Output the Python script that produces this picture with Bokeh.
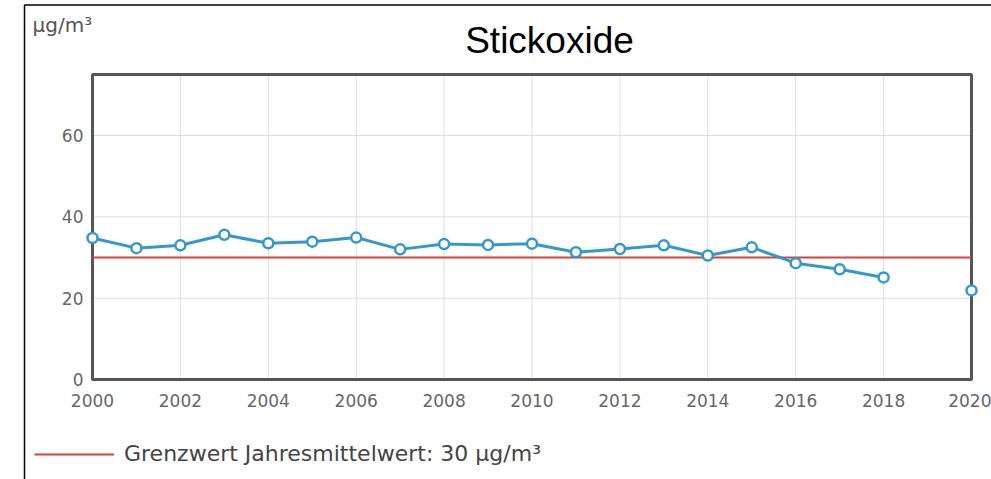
from bokeh.plotting import figure
from bokeh.models import (Range1d, FixedTicker, BoxAnnotation, Label, Legend, LegendItem)
from bokeh.embed import file_html
from bokeh.resources import INLINE

# ---- data ----
YEARS = [2000, 2001, 2002, 2003, 2004, 2005, 2006, 2007, 2008, 2009, 2010,
         2011, 2012, 2013, 2014, 2015, 2016, 2017, 2018, 2019, 2020]
NOX = [34.8, 32.3, 33.0, 35.6, 33.5, 33.9, 34.9, 32.0, 33.3, 33.1, 33.4,
       31.3, 32.1, 33.0, 30.5, 32.5, 28.6, 27.1, 25.1, float("nan"), 21.9]
LIMIT = 30
LIMIT_LABEL = "Grenzwert Jahresmittelwert: 30 µg/m³"
TITLE = "Stickoxide"
UNIT = "µg/m³"
X_TICKS = [2000, 2002, 2004, 2006, 2008, 2010, 2012, 2014, 2016, 2018, 2020]
Y_TICKS = [0, 20, 40, 60]
X_MIN, X_MAX = 2000, 2020
Y_MIN, Y_MAX = 0, 75

# ---- layout geometry (pixels inside the figure) ----
W, H = 991, 479
BOX_L, BOX_R, BOX_T, BOX_B = 92, 971, 74, 379   # visible plot box

xpx = (BOX_R - BOX_L) / (X_MAX - X_MIN)
ypx = (BOX_B - BOX_T) / (Y_MAX - Y_MIN)
XS = X_MIN - BOX_L / xpx
XE = X_MAX + (W - BOX_R) / xpx
YS = Y_MIN - (H - BOX_B) / ypx
YE = Y_MAX + BOX_T / ypx


def fx(px):
    return XS + px / xpx


def fy(py):
    return YE - py / ypx


p = figure(width=W, height=H, output_backend="svg", toolbar_location=None,
           title=None, x_range=Range1d(XS, XE), y_range=Range1d(YS, YE),
           min_border=0, min_border_left=0, min_border_right=0,
           min_border_top=0, min_border_bottom=0)
p.outline_line_color = None
p.background_fill_color = "white"
p.border_fill_color = "white"
p.xgrid.visible = False
p.ygrid.visible = False

for ax, ticks in ((p.xaxis[0], X_TICKS), (p.yaxis[0], Y_TICKS)):
    ax.ticker = FixedTicker(ticks=ticks)
    ax.axis_line_color = None
    ax.major_tick_line_color = None
    ax.minor_tick_line_color = None
    ax.major_tick_out = 0
    ax.major_tick_in = 0
    ax.minor_tick_out = 0
    ax.major_label_text_font = "DejaVu Sans"
    ax.major_label_text_font_size = "17px"
    ax.major_label_text_color = "#666666"
p.xaxis.fixed_location = Y_MIN
p.yaxis.fixed_location = X_MIN
p.xaxis.major_label_standoff = 14
p.yaxis.major_label_standoff = 9

# grid lines restricted to the box
p.segment(x0=X_TICKS, x1=X_TICKS, y0=[Y_MIN] * len(X_TICKS), y1=[Y_MAX] * len(X_TICKS),
          line_color="#dddddd", line_width=1, level="underlay")
p.segment(x0=[X_MIN] * len(Y_TICKS), x1=[X_MAX] * len(Y_TICKS), y0=Y_TICKS, y1=Y_TICKS,
          line_color="#dddddd", line_width=1, level="underlay")

p.add_layout(BoxAnnotation(left=X_MIN, right=X_MAX, bottom=Y_MIN, top=Y_MAX,
                           fill_alpha=0, fill_color=None, line_color="#555555",
                           line_alpha=1, line_width=3, level="underlay"))

limit_r = p.line(x=[X_MIN, X_MAX], y=[LIMIT, LIMIT], line_color="#d9403a", line_width=2)

p.line(x=YEARS, y=NOX, line_color="#3399cc", line_width=3)
p.scatter(x=YEARS, y=NOX, marker="circle", size=10, fill_color="white",
          line_color="#3399cc", line_width=2.5)

# title and unit label
p.add_layout(Label(x=fx(549), y=fy(40), text=TITLE, text_font="Liberation Sans",
                   text_font_size="37px", text_color="black", text_align="center",
                   text_baseline="alphabetic"))
p.add_layout(Label(x=fx(32), y=fy(24), text=UNIT, text_font="DejaVu Sans",
                   text_font_size="20px", text_color="#555555", text_align="left",
                   text_baseline="alphabetic"))

# outer black border (left and top)
p.add_layout(BoxAnnotation(left=fx(24), right=fx(W + 20), top=fy(4.5), bottom=fy(H + 20),
                           fill_alpha=0, fill_color=None, line_color="black",
                           line_alpha=1, line_width=1.5))

legend = Legend(items=[LegendItem(label=LIMIT_LABEL, renderers=[limit_r])],
                location=(34, H - 466), orientation="vertical",
                glyph_width=80, glyph_height=24, label_height=24, label_standoff=10,
                label_text_font="DejaVu Sans", label_text_font_size="22px",
                label_text_color="#444444", padding=0, margin=0, spacing=0,
                border_line_color=None, background_fill_alpha=0)
p.add_layout(legend)

open("out.html", "w").write(file_html(p, INLINE))
